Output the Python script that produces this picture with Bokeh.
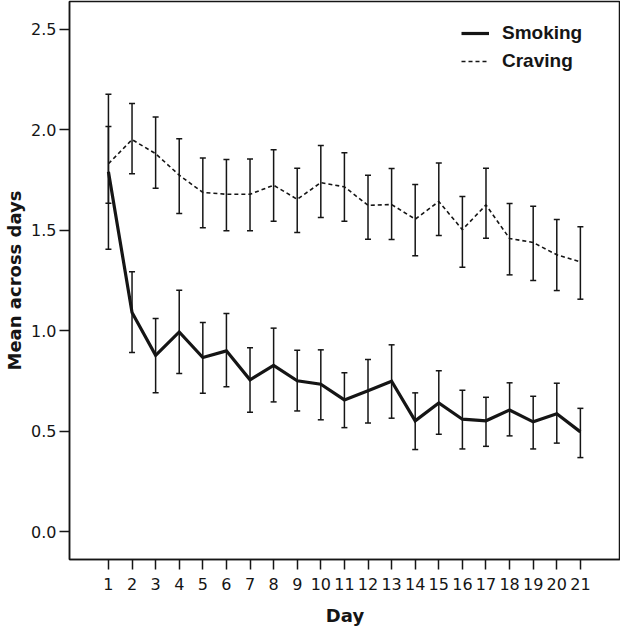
from bokeh.plotting import figure
from bokeh.models import (Range1d, FixedTicker, Whisker, TeeHead, ColumnDataSource,
                          Legend, LegendItem, PrintfTickFormatter)
from bokeh.embed import file_html
from bokeh.resources import INLINE

# ---- data ----
days = list(range(1, 22))
day_labels = [str(d) for d in days]

smoking_mean = [1.79, 1.09, 0.877, 0.993, 0.866, 0.899, 0.755, 0.827, 0.75, 0.733, 0.655,
                0.70, 0.748, 0.551, 0.64, 0.559, 0.551, 0.605, 0.546, 0.586, 0.496]
smoking_upper = [2.176, 1.292, 1.06, 1.20, 1.04, 1.085, 0.915, 1.012, 0.902, 0.904, 0.79,
                 0.856, 0.929, 0.69, 0.80, 0.703, 0.668, 0.74, 0.673, 0.738, 0.613]
smoking_lower = [1.404, 0.891, 0.69, 0.786, 0.688, 0.72, 0.594, 0.645, 0.60, 0.556, 0.517,
                 0.54, 0.564, 0.408, 0.484, 0.411, 0.424, 0.476, 0.411, 0.44, 0.368]

craving_mean = [1.83, 1.95, 1.88, 1.773, 1.687, 1.678, 1.678, 1.723, 1.653, 1.736, 1.715,
                1.623, 1.627, 1.554, 1.642, 1.502, 1.625, 1.458, 1.438, 1.377, 1.342]
craving_upper = [2.015, 2.13, 2.063, 1.954, 1.859, 1.851, 1.854, 1.90, 1.807, 1.92, 1.884,
                 1.773, 1.806, 1.726, 1.834, 1.667, 1.807, 1.632, 1.618, 1.552, 1.516]
craving_lower = [1.633, 1.78, 1.708, 1.582, 1.511, 1.496, 1.496, 1.544, 1.488, 1.562, 1.544,
                 1.454, 1.453, 1.372, 1.473, 1.315, 1.459, 1.277, 1.249, 1.199, 1.156]

y_ticks = [0.0, 0.5, 1.0, 1.5, 2.0, 2.5]
y_tick_labels = ["0.0", "0.5", "1.0", "1.5", "2.0", "2.5"]

series_names = ["Smoking", "Craving"]
x_label = "Day"
y_label = "Mean across days"

INK = "#151515"

src_s = ColumnDataSource(dict(x=days, y=smoking_mean, upper=smoking_upper, lower=smoking_lower))
src_c = ColumnDataSource(dict(x=days, y=craving_mean, upper=craving_upper, lower=craving_lower))

p = figure(width=620, height=628,
           x_range=Range1d(-0.65, 22.7), y_range=Range1d(-0.139, 2.637),
           output_backend="svg", toolbar_location=None,
           min_border_left=69, min_border_right=0, min_border_top=1, min_border_bottom=69)

p.xgrid.visible = False
p.ygrid.visible = False
p.outline_line_color = INK
p.outline_line_width = 1.5
p.background_fill_color = "white"
p.border_fill_color = "white"

# axes
p.xaxis.ticker = FixedTicker(ticks=days)
p.xaxis.major_label_overrides = {d: l for d, l in zip(days, day_labels)}
p.yaxis.ticker = FixedTicker(ticks=y_ticks)
p.yaxis.formatter = PrintfTickFormatter(format="%.1f")
p.yaxis.major_label_overrides = {t: l for t, l in zip(y_ticks, y_tick_labels)}
p.xaxis.axis_label = x_label
p.yaxis.axis_label = y_label

for ax in (p.xaxis[0], p.yaxis[0]):
    ax.axis_line_color = INK
    ax.axis_line_width = 1.5
    ax.major_tick_line_color = INK
    ax.major_tick_line_width = 1.5
    ax.major_tick_out = 10
    ax.major_tick_in = 0
    ax.minor_tick_out = 0
    ax.minor_tick_in = 0
    ax.major_label_text_font = "DejaVu Sans"
    ax.major_label_text_font_size = "16px"
    ax.major_label_text_color = INK
    ax.axis_label_text_font = "DejaVu Sans"
    ax.axis_label_text_font_style = "bold"
    ax.axis_label_text_font_size = "18px"
    ax.axis_label_text_color = INK

p.xaxis.major_label_standoff = 8
p.xaxis.axis_label_standoff = 12
p.yaxis.major_label_standoff = 3
p.yaxis.axis_label_standoff = 3

# error bars
for src in (src_c, src_s):
    w = Whisker(base="x", upper="upper", lower="lower", source=src, dimension="height",
                line_color=INK, line_width=1.5,
                upper_head=TeeHead(size=6, line_color=INK, line_width=1.5),
                lower_head=TeeHead(size=6, line_color=INK, line_width=1.5))
    p.add_layout(w)

# lines
r_c = p.line("x", "y", source=src_c, line_color=INK, line_width=1.6, line_dash="4 3")
r_s = p.line("x", "y", source=src_s, line_color=INK, line_width=3.2, line_join="miter")

legend = Legend(items=[LegendItem(label=series_names[0], renderers=[r_s]),
                       LegendItem(label=series_names[1], renderers=[r_c])],
                location=(392, 487), margin=0, padding=0, spacing=6,
                glyph_width=28, glyph_height=20, label_height=20, label_standoff=13,
                label_text_font="Liberation Sans", label_text_font_style="bold",
                label_text_font_size="19px", label_text_color=INK,
                border_line_color=None, background_fill_alpha=0)
p.add_layout(legend)

open("out.html", "w").write(file_html(p, INLINE))
